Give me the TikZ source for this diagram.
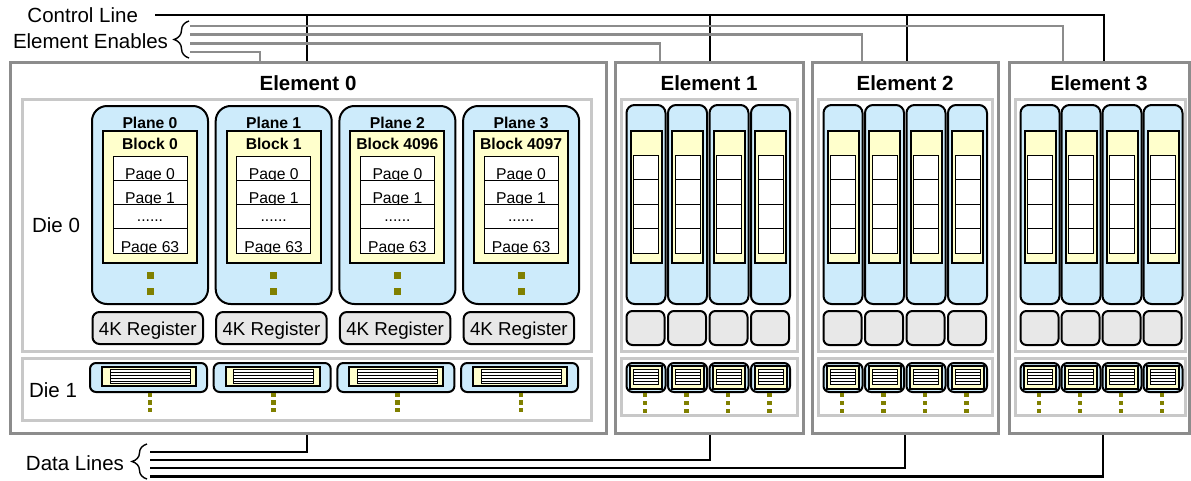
\documentclass[tikz,border=0pt]{standalone}
\usepackage{fontspec}
\setmainfont{Liberation Sans}
\usetikzlibrary{decorations.pathreplacing}
\definecolor{planeblue}{HTML}{CDEBFB}
\definecolor{blockyellow}{HTML}{FFFFCC}
\definecolor{reggray}{HTML}{E8E8E8}
\definecolor{dotolive}{HTML}{808000}
\definecolor{elemgray}{HTML}{8C8C8C}
\definecolor{diegray}{HTML}{C8C8C8}
\newcommand\bx[6]{\node[#1, minimum width={(#4)-(#2)}, minimum height={(#5)-(#3)}] (#6) at ({((#2)+(#4))/2},{((#3)+(#5))/2}) {};}
\newcommand\fs[1]{\fontsize{#1}{#1}\selectfont}
\newcommand\sixdots{......}
\begin{document}
\begin{tikzpicture}[x=1pt,y=-1pt,
 every node/.style={inner sep=0pt,outer sep=0pt},
 elem/.style={draw=elemgray,line width=3pt,fill=white},
 die/.style={draw=diegray,line width=3pt},
 plane/.style={draw=black,line width=2pt,fill=planeblue,rounded corners=15pt},
 cplane/.style={draw=black,line width=2pt,fill=planeblue,rounded corners=8pt},
 flat/.style={draw=black,line width=2pt,fill=planeblue,rounded corners=6pt},
 blk/.style={draw=black,line width=2pt,fill=blockyellow},
 pagebox/.style={draw=black,line width=1pt,fill=white},
 reg/.style={draw=black,line width=2pt,fill=reggray,rounded corners=7pt},
 creg/.style={draw=black,line width=2pt,fill=reggray,rounded corners=6pt},
 bigdot/.style={fill=dotolive,minimum size=7pt},
 smalldot/.style={fill=dotolive,minimum size=4.5pt},
 lbl/.style={font=\fs{20.5}},
 ttl/.style={font=\bfseries\fs{20.5}},
 small/.style={font=\fs{15.7}},
 smallb/.style={font=\bfseries\fs{15.7}},
 regtxt/.style={font=\fs{18.7}},
 wire/.style={draw=black,line width=2.5pt},
 enable/.style={draw=elemgray,line width=2.5pt},
 brc/.style={draw=black,line width=1.4pt,decorate,decoration={brace,amplitude=15pt}},
 thinline/.style={draw=black,line width=1pt},
 hair/.style={draw=black,line width=0.6pt}
]
\useasboundingbox (0,0) rectangle (1191,480);

% ---- side labels and braces
\node[lbl,anchor=base east] (ctltxt) at (138,22.5) {Control Line};
\node[lbl,anchor=base east] (entxt) at (168,48) {Element Enables};
\node[lbl,anchor=base east] (datatxt) at (124,470.5) {Data Lines};
\draw[brc] (189,58) -- (189,21);
\draw[brc] (147,479) -- (147,444);

% ---- wire end points
\coordinate (ctl) at (155,15);
\coordinate (c0) at (307,62);
\coordinate (c1) at (710,62);
\coordinate (c2) at (907,62);
\coordinate (c3) at (1104,62);
\coordinate (s0) at (190,52);
\coordinate (s1) at (190,43.3);
\coordinate (s2) at (190,34.3);
\coordinate (s3) at (190,26);
\coordinate (n0) at (260,62);
\coordinate (n1) at (660,62);
\coordinate (n2) at (862,62);
\coordinate (n3) at (1063,62);
\coordinate (t0) at (150,452);
\coordinate (t1) at (150,460);
\coordinate (t2) at (150,468);
\coordinate (t3) at (150,476.5);
\coordinate (d0) at (307,433);
\coordinate (d1) at (710,433);
\coordinate (d2) at (905,433);
\coordinate (d3) at (1103,433);

\draw[wire] (ctl) -| (c3);
\foreach \k in {0,1,2}{\draw[wire] (c\k) -- (c\k |- ctl);}
\foreach \k in {0,1,2,3}{\draw[enable] (s\k) -| (n\k);}
\foreach \k in {0,1,2,3}{\draw[wire] (t\k) -| (d\k);}

% ---- element frames
\bx{elem}{10}{62}{606}{433}{E0}
\bx{elem}{615}{62}{803}{433}{E1}
\bx{elem}{812}{62}{998}{433}{E2}
\bx{elem}{1009}{62}{1189}{433}{E3}
\node[ttl,anchor=base] (ttl0) at (308,90) {Element 0};
\node[ttl,anchor=base] (ttl1) at (709,90) {Element 1};
\node[ttl,anchor=base] (ttl2) at (905,90) {Element 2};
\node[ttl,anchor=base] (ttl3) at (1099,90) {Element 3};

% ---- element 0 dies
\bx{die}{22}{99}{591}{351}{E0D0}
\bx{die}{22}{358}{591}{420}{E0D1}
\node[lbl,anchor=base] (die0txt) at (56,232.5) {Die 0};
\node[lbl,anchor=base] (die1txt) at (53,397.5) {Die 1};

\foreach \i/\bn in {0/0,1/1,2/4096,3/4097}{
  \pgfmathsetmacro\xo{92+123.7*\i}
  \bx{plane}{\xo}{106}{\xo+116}{304}{e0p\i}
  \node[smallb,anchor=base] (e0pl\i) at (\xo+58,128) {Plane \i};
  \bx{blk}{\xo+11}{131}{\xo+105}{263}{e0b\i}
  \node[smallb,anchor=base] (e0bl\i) at (\xo+58,149) {Block \bn};
  \bx{pagebox}{\xo+21}{156}{\xo+95}{253}{e0pg\i}
  \foreach \ya/\yb/\yt/\tx [count=\r] in {156/180/179/Page 0,180/204/203/Page 1,204/228/221.5/\sixdots,228/253/252/Page 63}{
    \begin{scope}
      \clip (\xo+21,\ya) rectangle (\xo+95,\yb);
      \node[small,anchor=base] (e0pg\i r\r) at (\xo+58,\yt) {\tx};
    \end{scope}
  }
  \foreach \yy in {180,204,228}{\draw[thinline] (\xo+21,\yy) -- (\xo+95,\yy);}
  \draw[thinline] (\xo+21,156) rectangle (\xo+95,253);
  \node[bigdot] (e0da\i) at (\xo+58,275) {};
  \node[bigdot] (e0db\i) at (\xo+58,291) {};
  \bx{reg}{\xo+0.5}{312}{\xo+111}{344}{e0r\i}
  \node[regtxt,anchor=base] (e0rt\i) at (\xo+55.75,335.5) {4K Register};
  % die 1
  \bx{flat}{\xo-2}{363}{\xo+115}{392}{e0q\i}
  \bx{blk}{\xo+10}{367}{\xo+104}{386}{e0qb\i}
  \bx{pagebox}{\xo+18}{369.5}{\xo+98}{383.5}{e0qw\i}
  \foreach \yy in {372.5,375.5,378.5,381.5}{\draw[hair] (\xo+18,\yy) -- (\xo+98,\yy);}
  \node[smalldot] (e0qa\i) at (\xo+58,395) {};
  \node[smalldot] (e0qc\i) at (\xo+58,402.5) {};
  \node[smalldot] (e0qd\i) at (\xo+58,410) {};
}

% ---- compact elements 1..3
\foreach \L/\pitch/\dr/\nm in {615/41.5/797/1,812/41.5/992/2,1009/41/1185/3}{
  \bx{die}{\L+6}{99}{\dr}{351}{E\nm D0}
  \bx{die}{\L+6}{358}{\dr}{415}{E\nm D1}
  \foreach \j in {0,1,2,3}{
    \pgfmathsetmacro\px{\L+11.5+\pitch*\j}
    \bx{cplane}{\px}{105}{\px+39}{304}{e\nm p\j}
    \bx{blk}{\px+4}{131}{\px+35}{263}{e\nm b\j}
    \bx{pagebox}{\px+7}{155}{\px+32}{253}{e\nm pg\j}
    \foreach \yy in {179,204,228}{\draw[thinline] (\px+7,\yy) -- (\px+32,\yy);}
    \bx{creg}{\px}{311}{\px+38}{345}{e\nm r\j}
    \bx{flat}{\px}{363}{\px+39}{392}{e\nm q\j}
    \bx{blk}{\px+3.5}{366}{\px+35.5}{388.5}{e\nm qb\j}
    \bx{pagebox}{\px+7}{369.5}{\px+32}{384.5}{e\nm qw\j}
    \foreach \yy in {372.5,375.5,378.5,381.5}{\draw[hair] (\px+7,\yy) -- (\px+32,\yy);}
    \node[smalldot] (e\nm qa\j) at (\px+18.5,395) {};
    \node[smalldot] (e\nm qc\j) at (\px+18.5,403) {};
    \node[smalldot] (e\nm qd\j) at (\px+18.5,411) {};
  }
}
\end{tikzpicture}
\end{document}
